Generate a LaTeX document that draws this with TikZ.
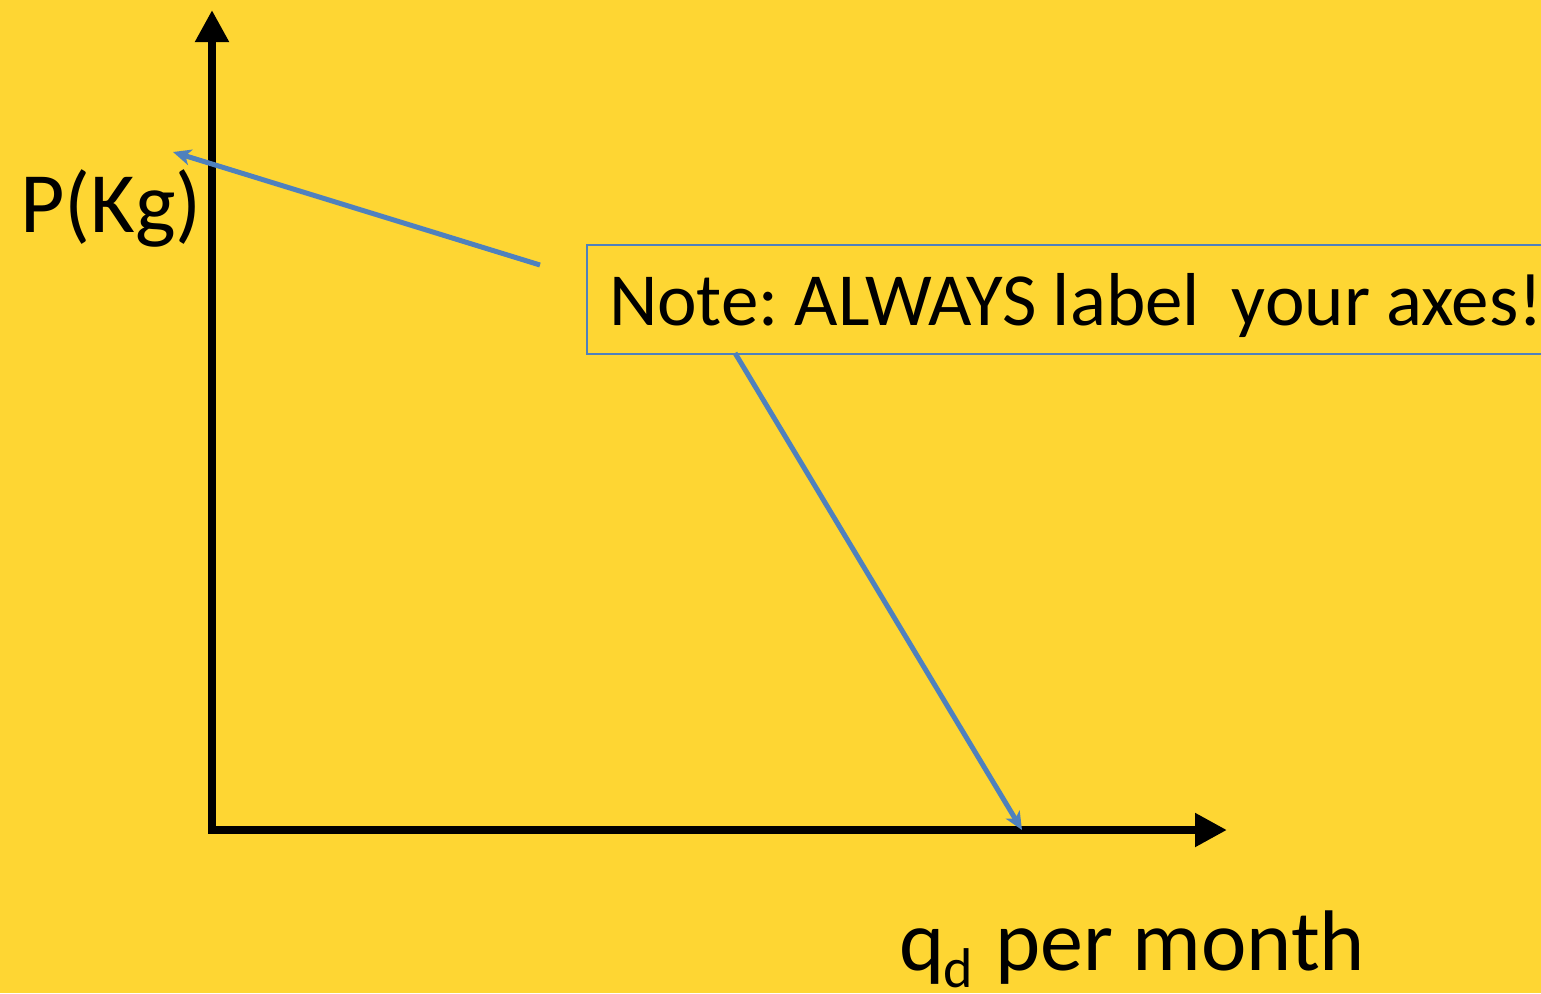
\documentclass[tikz,border=0pt]{standalone}
\usepackage{fontspec}
\setmainfont{Carlito}
\usetikzlibrary{arrows.meta}
\definecolor{bgyellow}{HTML}{FED633}
\definecolor{noteblue}{HTML}{4F81BD}
\tikzset{
  axis/.style={line width=8.5pt, -{Triangle[length=32pt,width=32pt]}},
  pointer/.style={draw=noteblue, line width=5pt, -{Stealth[length=18pt,width=16pt,inset=5pt]}},
  biglabel/.style={font=\fontsize{86}{100}\selectfont, inner sep=0pt},
  notebox/.style={draw=noteblue, line width=2pt, font=\fontsize{75}{86}\selectfont,
    text width=980pt, align=left, inner xsep=22pt, inner ysep=0pt,
    text height=80pt, text depth=29pt, anchor=north west}
}
\begin{document}
\frenchspacing
\begin{tikzpicture}[x=1pt,y=-1pt]
\useasboundingbox (0,0) rectangle (1541,993);
\fill[bgyellow] (0,0) rectangle (1541,993);
\coordinate (origin) at (212,830);
\coordinate (ytip) at (212,10);
\coordinate (xtip) at (1227,830);
\draw[axis] ([yshift=4pt]origin) -- (ytip);
\draw[axis] ([xshift=-4pt]origin) -- (xtip);
\node[biglabel, anchor=base west] (plabel) at (20,232) {P(Kg)};
\node[biglabel, anchor=base west] (qlabel) at (899,970) {q\kern-1pt\raisebox{-17pt}{\fontsize{56}{60}\selectfont d}\kern3pt{} per month};
\node[notebox] (note) at (586,244) {\spaceskip=16pt\frenchspacing Note: ALWAYS label\ \ your axes!};
\coordinate (a1s) at (540,265);
\coordinate (a1e) at (173,152);
\coordinate (a2s) at (735,353);
\coordinate (a2e) at (1022,830);
\draw[pointer] (a1s) -- (a1e);
\draw[pointer] (a2s) -- (a2e);
\end{tikzpicture}
\end{document}
